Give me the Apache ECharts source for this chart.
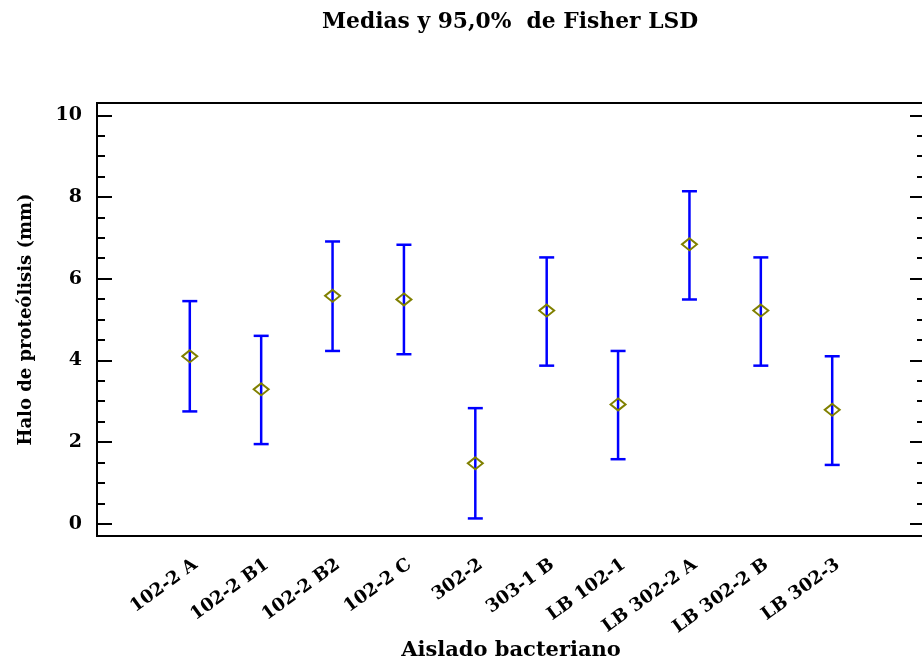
<!DOCTYPE html>
<html>
<head>
<meta charset="utf-8">
<script src="https://cdn.jsdelivr.net/npm/echarts@6/dist/echarts.min.js"></script>
<style>
  html, body { margin: 0; padding: 0; background: #fff; }
  #chart { width: 922px; height: 666px; }
</style>
</head>
<body>
<div id="chart"></div>
<script>
const categories = ["102-2 A", "102-2 B1", "102-2 B2", "102-2 C", "302-2", "303-1 B", "LB 102-1", "LB 302-2 A", "LB 302-2 B", "LB 302-3"]
const means = [4.10, 3.29, 5.58, 5.49, 1.48, 5.22, 2.92, 6.84, 5.22, 2.79]
const lower = [2.75, 1.95, 4.23, 4.15, 0.13, 3.87, 1.58, 5.49, 3.87, 1.44]
const upper = [5.45, 4.60, 6.91, 6.83, 2.83, 6.52, 4.23, 8.14, 6.52, 4.10]
const yMajor = [0, 2, 4, 6, 8, 10]
const yMinor = [0.5, 1, 1.5, 2.5, 3, 3.5, 4.5, 5, 5.5, 6.5, 7, 7.5, 8.5, 9, 9.5]

const positions = categories.map((c, i) => i + 1)
const font = "DejaVu Serif"

const chart = echarts.init(document.getElementById("chart"))

// same scale for every y axis, they only differ in side and tick length
const yBase = {
  type: "value",
  min: -0.3,
  max: 10.3,
  splitLine: { show: false },
  axisLine: { show: false, onZero: false }
}

const tickAxis = (position, length, values) =>
  Object.assign({}, yBase, {
    position: position,
    axisTick: { show: true, inside: true, length: length, customValues: values, lineStyle: { color: "#000", width: 2 } },
    axisLabel: { show: false }
  })

const options = {
  animation: false,
  title: {
    text: "Medias y 95,0%  de Fisher LSD",
    left: 505,
    top: 6,
    textAlign: "center",
    textStyle: { fontFamily: font, fontWeight: "bold", fontSize: 21.8, color: "#000" }
  },
  grid: {
    left: 97,
    top: 103,
    right: -3,
    bottom: 130,
    outerBoundsMode: "none",
    containLabel: false,
    show: true,
    borderColor: "#000",
    borderWidth: 2,
    backgroundColor: "#fff"
  },
  xAxis: {
    type: "value",
    min: -0.3,
    max: 11.3,
    splitLine: { show: false },
    axisLine: { show: false, onZero: false },
    axisTick: { show: false },
    axisLabel: {
      customValues: positions,
      rotate: 36,
      margin: 31,
      padding: [0, -7, 0, 0],
      fontFamily: font,
      fontWeight: "bold",
      fontSize: 18,
      color: "#000",
      formatter: (v) => categories[Math.round(v) - 1] || ""
    },
    name: "Aislado bacteriano",
    nameLocation: "middle",
    nameGap: 104,
    nameMoveOverlap: false,
    nameTextStyle: { fontFamily: font, fontWeight: "bold", fontSize: 21, color: "#000" }
  },
  yAxis: [
    Object.assign({}, yBase, {
      position: "left",
      axisTick: { show: true, inside: true, length: 15, customValues: yMajor, lineStyle: { color: "#000", width: 2 } },
      axisLabel: {
        customValues: yMajor,
        margin: 15,
        fontFamily: font,
        fontWeight: "bold",
        fontSize: 19,
        color: "#000"
      },
      name: "Halo de proteólisis (mm)",
      nameLocation: "middle",
      nameGap: 62,
      nameTextStyle: { fontFamily: font, fontWeight: "bold", fontSize: 18, color: "#000" }
    }),
    tickAxis("left", 8, yMinor),
    tickAxis("right", 15, yMajor),
    tickAxis("right", 8, yMinor)
  ],
  series: [
    {
      name: "LSD",
      type: "custom",
      data: positions.map((x, i) => [x, lower[i], upper[i]]),
      renderItem: (params, api) => {
        const x = api.value(0)
        const lo = api.coord([x, api.value(1)])
        const hi = api.coord([x, api.value(2)])
        const half = 7.5
        const style = { stroke: "#0000ff", lineWidth: 2.5 }
        return {
          type: "group",
          children: [
            { type: "line", shape: { x1: lo[0], y1: lo[1], x2: hi[0], y2: hi[1] }, style },
            { type: "line", shape: { x1: hi[0] - half, y1: hi[1], x2: hi[0] + half, y2: hi[1] }, style },
            { type: "line", shape: { x1: lo[0] - half, y1: lo[1], x2: lo[0] + half, y2: lo[1] }, style }
          ]
        }
      },
      z: 2
    },
    {
      name: "Medias",
      type: "scatter",
      data: positions.map((x, i) => [x, means[i]]),
      symbol: "diamond",
      symbolSize: [15, 12],
      itemStyle: { color: "transparent", borderColor: "#808000", borderWidth: 2, opacity: 1 },
      z: 3
    }
  ]
}

chart.setOption(options)
</script>
</body>
</html>
